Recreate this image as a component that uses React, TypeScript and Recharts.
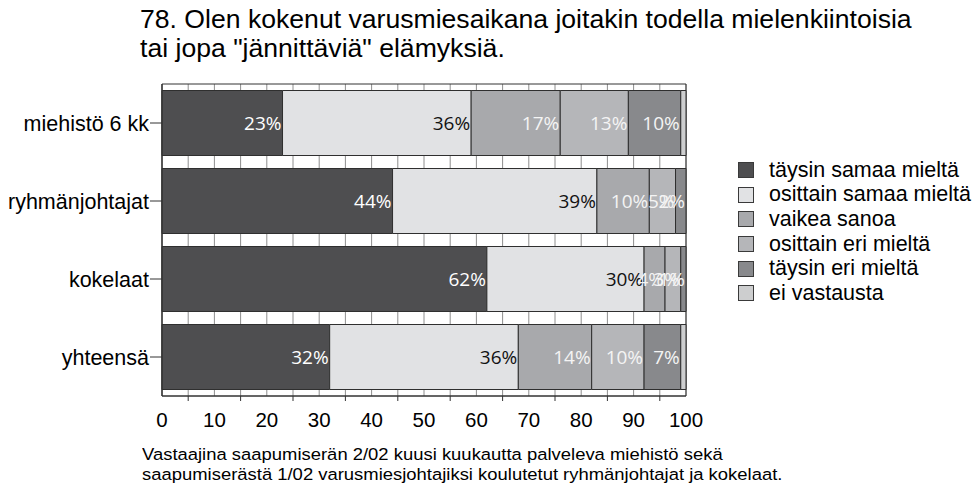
import React from "react";
import {
  BarChart,
  Bar,
  XAxis,
  YAxis,
  CartesianGrid,
  Legend,
  LabelList,
  ReferenceArea,
} from "recharts";

const groups = ["miehistö 6 kk", "ryhmänjohtajat", "kokelaat", "yhteensä"];
const taysinSamaa = [23, 44, 62, 32];
const osittainSamaa = [36, 39, 30, 36];
const vaikeaSanoa = [17, 10, 4, 14];
const osittainEri = [13, 5, 3, 10];
const taysinEri = [10, 2, 1, 7];
const eiVastausta = [1, 0, 0, 1];

const gridTicks = [0, 5, 10, 15, 20, 25, 30, 35, 40, 45, 50, 55, 60, 65, 70, 75, 80, 85, 90, 95, 100];

const series = [
  { key: "ts", name: "täysin samaa mieltä", values: taysinSamaa, fill: "#4e4e50", text: "#ffffff" },
  { key: "os", name: "osittain samaa mieltä", values: osittainSamaa, fill: "#e1e2e4", text: "#111111" },
  { key: "vs", name: "vaikea sanoa", values: vaikeaSanoa, fill: "#a8a9ac", text: "#f4f4f4" },
  { key: "oe", name: "osittain eri mieltä", values: osittainEri, fill: "#b5b6b9", text: "#f4f4f4" },
  { key: "te", name: "täysin eri mieltä", values: taysinEri, fill: "#88898c", text: "#f4f4f4" },
  { key: "ev", name: "ei vastausta", values: eiVastausta, fill: "#cdcecf", text: null },
];

const rows = groups.map((g, i) => {
  const row: Record<string, string | number> = { group: g };
  series.forEach((s) => {
    row[s.key] = s.values[i];
  });
  return row;
});

const FONT = "'Liberation Sans', Arial, sans-serif";
const LEGEND_W = 240;

function segmentLabel(color: string) {
  return (props: any) => {
    const { x, y, width, height, value } = props;
    if (!value) return null;
    return (
      <text
        x={x + width - 1}
        y={y + height / 2}
        dy="0.36em"
        textAnchor="end"
        fill={color}
        fontSize={19}
        fontFamily="'Open Sans', sans-serif"
      >
        {value}%
      </text>
    );
  };
}

function XTick(props: any) {
  const { x, y, payload } = props;
  const v = payload.value;
  return (
    <g>
      {v % 10 === 5 && <line x1={x} x2={x} y1={y - 5} y2={y} stroke="#333" />}
      {v % 10 === 0 && (
        <text x={x} y={y + 26} textAnchor="middle" fontSize={20.5} fontFamily={FONT} fill="#000">
          {v}
        </text>
      )}
    </g>
  );
}

function LegendBox() {
  return (
    <div style={{ fontFamily: FONT, fontSize: 21.5, color: "#000", width: LEGEND_W }}>
      {series.map((s) => (
        <div key={s.key} style={{ display: "flex", alignItems: "center", height: 24.6, whiteSpace: "nowrap" }}>
          <span
            style={{
              display: "inline-block",
              flex: "none",
              width: 14,
              height: 14,
              background: s.fill,
              border: "1px solid #3a3a3a",
              marginRight: 15,
            }}
          />
          <span>{s.name}</span>
        </div>
      ))}
    </div>
  );
}

export default function App() {
  return (
    <div style={{ position: "fixed", left: 0, top: 0, width: 978, height: 488, background: "#fff", overflow: "hidden" }}>
      <div
        style={{
          position: "absolute",
          left: 140,
          top: 5,
          fontFamily: FONT,
          fontSize: 26.6,
          lineHeight: "29px",
          color: "#000",
          whiteSpace: "nowrap",
        }}
      >
        78. Olen kokenut varusmiesaikana joitakin todella mielenkiintoisia
        <br />
        tai jopa "jännittäviä" elämyksiä.
      </div>
      <BarChart
        width={978}
        height={488}
        data={rows}
        layout="vertical"
        margin={{ top: 84, right: 292 - LEGEND_W, bottom: 62, left: 0 }}
        barCategoryGap={6.5}
      >
        <CartesianGrid horizontal={false} stroke="#8e8e8e" />
        <XAxis
          type="number"
          domain={[0, 100]}
          ticks={gridTicks}
          interval={0}
          height={30}
          tickSize={5}
          tickMargin={0}
          tickLine={false}
          axisLine={{ stroke: "#333" }}
          tick={<XTick />}
        />
        <YAxis
          type="category"
          dataKey="group"
          width={162}
          tickSize={12}
          tickMargin={1}
          axisLine={{ stroke: "#333" }}
          tickLine={{ stroke: "#333" }}
          tick={{ fill: "#000", fontSize: 21.5, fontFamily: FONT }}
        />
        {series.map((s) => (
          <Bar
            key={s.key}
            dataKey={s.key}
            name={s.name}
            stackId="a"
            fill={s.fill}
            stroke="#2f2f2f"
            strokeWidth={1}
            isAnimationActive={false}
          >
            {s.text && <LabelList dataKey={s.key} content={segmentLabel(s.text)} />}
          </Bar>
        ))}
        <ReferenceArea x1={0} x2={100} fill="none" stroke="#333" ifOverflow="visible" />
        <Legend
          content={<LegendBox />}
          layout="vertical"
          align="right"
          verticalAlign="middle"
          wrapperStyle={{ left: 738, top: 158, width: LEGEND_W }}
        />
      </BarChart>
      <div
        style={{
          position: "absolute",
          left: 142,
          top: 445,
          fontFamily: FONT,
          fontSize: 17.4,
          lineHeight: "19.5px",
          color: "#000",
          whiteSpace: "nowrap",
          transform: "scaleX(1.06)",
          transformOrigin: "0 0",
        }}
      >
        Vastaajina saapumiserän 2/02 kuusi kuukautta palveleva miehistö sekä
        <br />
        saapumiserästä 1/02 varusmiesjohtajiksi koulutetut ryhmänjohtajat ja kokelaat.
      </div>
    </div>
  );
}
